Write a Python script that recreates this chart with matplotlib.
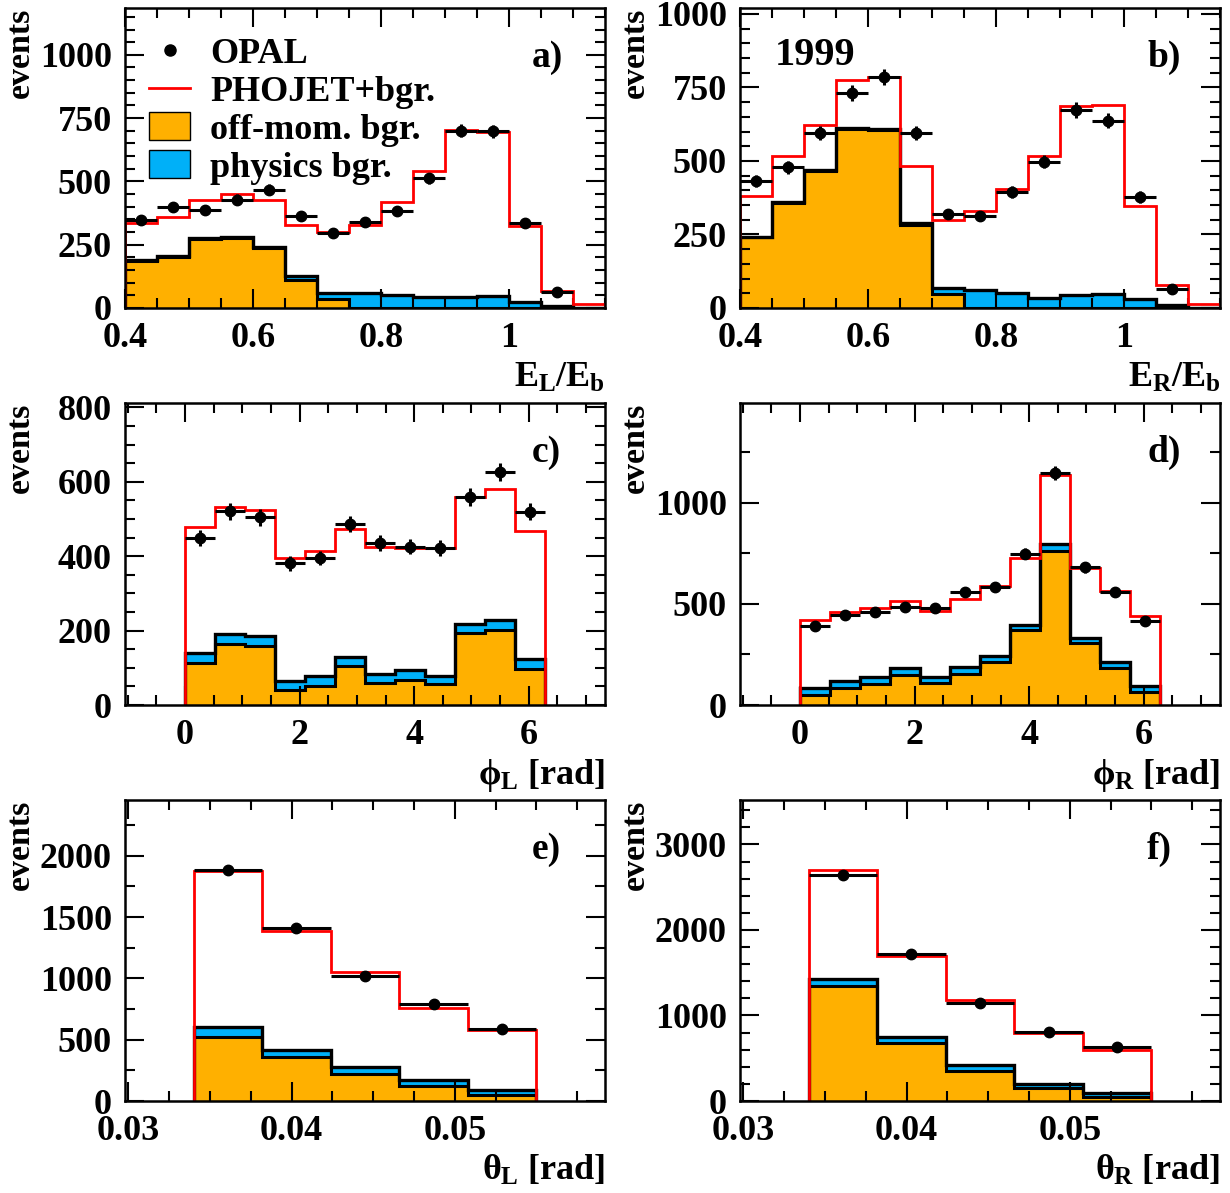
import numpy as np
import matplotlib
matplotlib.use('Agg')
import matplotlib.pyplot as plt
from matplotlib.lines import Line2D
from matplotlib.patches import Patch
from matplotlib.ticker import MultipleLocator

plt.rcParams['font.family'] = ['Liberation Serif', 'DejaVu Serif']
plt.rcParams['font.weight'] = 'bold'
plt.rcParams['mathtext.fontset'] = 'custom'
plt.rcParams['mathtext.rm'] = 'Liberation Serif:bold'
plt.rcParams['mathtext.it'] = 'Liberation Serif:bold'
plt.rcParams['mathtext.bf'] = 'Liberation Serif:bold'

ORANGE = '#ffb000'
BLUE = '#00b0f8'

# bin edges
e_edges = np.linspace(0.40, 1.15, 16)
phi_edges = np.linspace(0, 2 * np.pi, 13)
theta_edges = np.linspace(0.034, 0.055, 6)

# a) E_L/E_b
a_opal = [348, 398, 386, 428, 467, 364, 298, 338, 382, 512, 700, 698, 334, 64, 0]
a_mc = [334, 361, 427, 449, 427, 327, 302, 328, 419, 543, 704, 694, 325, 67, 14]
a_offmom = [187, 200, 272, 277, 236, 109, 36, 0, 0, 0, 0, 0, 0, 0, 0]
a_phys = [3, 4, 3, 3, 5, 16, 24, 60, 50, 43, 43, 47, 24, 6, 0]

# b) E_R/E_b
b_opal = [431, 479, 595, 732, 786, 595, 319, 313, 395, 497, 673, 637, 378, 63, 0]
b_mc = [381, 518, 623, 775, 786, 482, 300, 330, 405, 516, 687, 690, 347, 79, 15]
b_offmom = [240, 358, 465, 608, 606, 283, 48, 0, 0, 0, 0, 0, 0, 0, 0]
b_phys = [3, 3, 3, 3, 3, 7, 20, 61, 51, 34, 43, 46, 32, 9, 0]

# c) phi_L
c_opal = [449, 521, 505, 381, 395, 487, 435, 426, 422, 559, 626, 519]
c_mc = [478, 533, 523, 395, 413, 472, 426, 423, 422, 559, 581, 469]
c_offmom = [114, 163, 158, 41, 50, 105, 59, 66, 56, 193, 201, 97]
c_phys = [26, 28, 27, 23, 27, 25, 25, 27, 23, 25, 27, 27]

# d) phi_R
d_opal = [391, 444, 458, 484, 481, 560, 582, 748, 1149, 682, 559, 416]
d_mc = [423, 461, 481, 516, 466, 527, 589, 726, 1141, 677, 566, 439]
d_offmom = [51, 85, 104, 149, 109, 151, 212, 370, 764, 308, 184, 63]
d_phys = [34, 33, 37, 33, 32, 35, 33, 25, 32, 25, 28, 30]

# e) theta_L
e_opal = [1885, 1407, 1016, 792, 585]
e_mc = [1877, 1388, 1052, 760, 579]
e_offmom = [525, 355, 219, 123, 49]
e_phys = [76, 60, 60, 46, 41]

# f) theta_R
f_opal = [2640, 1721, 1150, 802, 637]
f_mc = [2706, 1701, 1181, 790, 594]
f_offmom = [1349, 677, 352, 149, 47]
f_phys = [75, 66, 66, 54, 51]


def draw(ax, edges, opal, mc, offmom, phys):
    edges = np.asarray(edges)
    offmom = np.asarray(offmom, float)
    total = offmom + np.asarray(phys, float)
    ax.stairs(total, edges, fill=True, color=BLUE, zorder=1)
    ax.stairs(offmom, edges, fill=True, color=ORANGE, zorder=1.1)
    ax.stairs(offmom, edges, color='k', lw=2.2, baseline=None, zorder=1.3)
    ax.stairs(total, edges, color='k', lw=2.4, zorder=1.4)
    ax.stairs(mc, edges, color='#ff0000', lw=2.0, zorder=1.6)
    n = np.asarray(opal, float)
    cen = 0.5 * (edges[1:] + edges[:-1])
    hw = 0.5 * (edges[1:] - edges[:-1])
    m = n > 0
    ax.errorbar(cen[m], n[m], xerr=hw[m], yerr=np.sqrt(n[m]), fmt='o', color='k',
                ms=7.5, elinewidth=2.2, capsize=0, zorder=3)


def style(ax, xmaj, xmin, ymaj, ymin, xlim, ylim, xlabels=None):
    ax.set_xlim(*xlim)
    ax.set_ylim(*ylim)
    ax.set_xticks(xmaj)
    if xlabels is not None:
        ax.set_xticklabels(xlabels)
    ax.xaxis.set_minor_locator(MultipleLocator(xmin))
    ax.set_yticks(ymaj)
    ax.yaxis.set_minor_locator(MultipleLocator(ymin))
    ax.tick_params(which='both', direction='in', top=True, right=True, width=1.5,
                   labelsize=26)
    ax.tick_params(which='major', length=14)
    ax.tick_params(which='minor', length=7)
    ax.tick_params(axis='x', pad=10)
    ax.tick_params(axis='y', pad=9.5)
    for s in ax.spines.values():
        s.set_linewidth(1.8)
    ax.text(-0.219, 1.0, 'events', rotation=90, ha='center', va='top',
            transform=ax.transAxes, fontsize=24.5)


fig = plt.figure(figsize=(12.3, 11.93), dpi=100)
W, H = 1230, 1193


def add(left, top, bottom):
    return fig.add_axes([left / W, 1 - bottom / H, 480 / W, (bottom - top) / H])


axa = add(125, 8, 308)
axb = add(740, 8, 308)
axc = add(125, 403, 705)
axd = add(740, 403, 705)
axe = add(125, 800, 1101)
axf = add(740, 800, 1101)

draw(axa, e_edges, a_opal, a_mc, a_offmom, a_phys)
draw(axb, e_edges, b_opal, b_mc, b_offmom, b_phys)
draw(axc, phi_edges, c_opal, c_mc, c_offmom, c_phys)
draw(axd, phi_edges, d_opal, d_mc, d_offmom, d_phys)
draw(axe, theta_edges, e_opal, e_mc, e_offmom, e_phys)
draw(axf, theta_edges, f_opal, f_mc, f_offmom, f_phys)

elab = ['0.4', '0.6', '0.8', '1']
style(axa, [0.4, 0.6, 0.8, 1.0], 0.05, [0, 250, 500, 750, 1000], 50, (0.4, 1.15), (0, 1185), elab)
style(axb, [0.4, 0.6, 0.8, 1.0], 0.05, [0, 250, 500, 750, 1000], 50, (0.4, 1.15), (0, 1020), elab)
phlim = (-np.pi / 3, 7 * np.pi / 3)
style(axc, [0, 2, 4, 6], 0.5, [0, 200, 400, 600, 800], 50, phlim, (0, 812))
style(axd, [0, 2, 4, 6], 0.5, [0, 500, 1000], 250, phlim, (0, 1495))
thlab = ['0.03', '0.04', '0.05']
style(axe, [0.03, 0.04, 0.05], 0.0025, [0, 500, 1000, 1500, 2000], 250, (0.0298, 0.0592), (0, 2455), thlab)
style(axf, [0.03, 0.04, 0.05], 0.0025, [0, 1000, 2000, 3000], 200, (0.0298, 0.0592), (0, 3520), thlab)

xlabels = [(axa, r'$E_L/E_b$'), (axb, r'$E_R/E_b$'),
           (axc, r'$\phi_L$ [rad]'), (axd, r'$\phi_R$ [rad]'),
           (axe, r'$\theta_L$ [rad]'), (axf, r'$\theta_R$ [rad]')]
for ax, lab in xlabels:
    ax.text(1.0, -0.262, lab, ha='right', va='baseline', transform=ax.transAxes, fontsize=26)

for ax, lab in zip([axa, axb, axc, axd, axe, axf], ['a)', 'b)', 'c)', 'd)', 'e)', 'f)']):
    ax.text(0.848, 0.805, lab, ha='left', va='baseline', transform=ax.transAxes, fontsize=27)

axb.text(0.072, 0.81, '1999', ha='left', va='baseline', transform=axb.transAxes, fontsize=29)

handles = [Line2D([], [], marker='o', ls='none', color='k', ms=8),
           Line2D([], [], color='#ff0000', lw=2),
           Patch(facecolor=ORANGE, edgecolor='k', lw=1),
           Patch(facecolor=BLUE, edgecolor='k', lw=1)]
labels = ['OPAL', 'PHOJET+bgr.', 'off-mom. bgr.', 'physics bgr.']
axa.legend(handles, labels, loc='upper left', bbox_to_anchor=(0.05, 0.905), frameon=False,
           fontsize=26, handlelength=1.14, handleheight=0.8, handletextpad=0.55,
           labelspacing=0.1, borderpad=0, borderaxespad=0)

fig.savefig('out.png', dpi=100)
